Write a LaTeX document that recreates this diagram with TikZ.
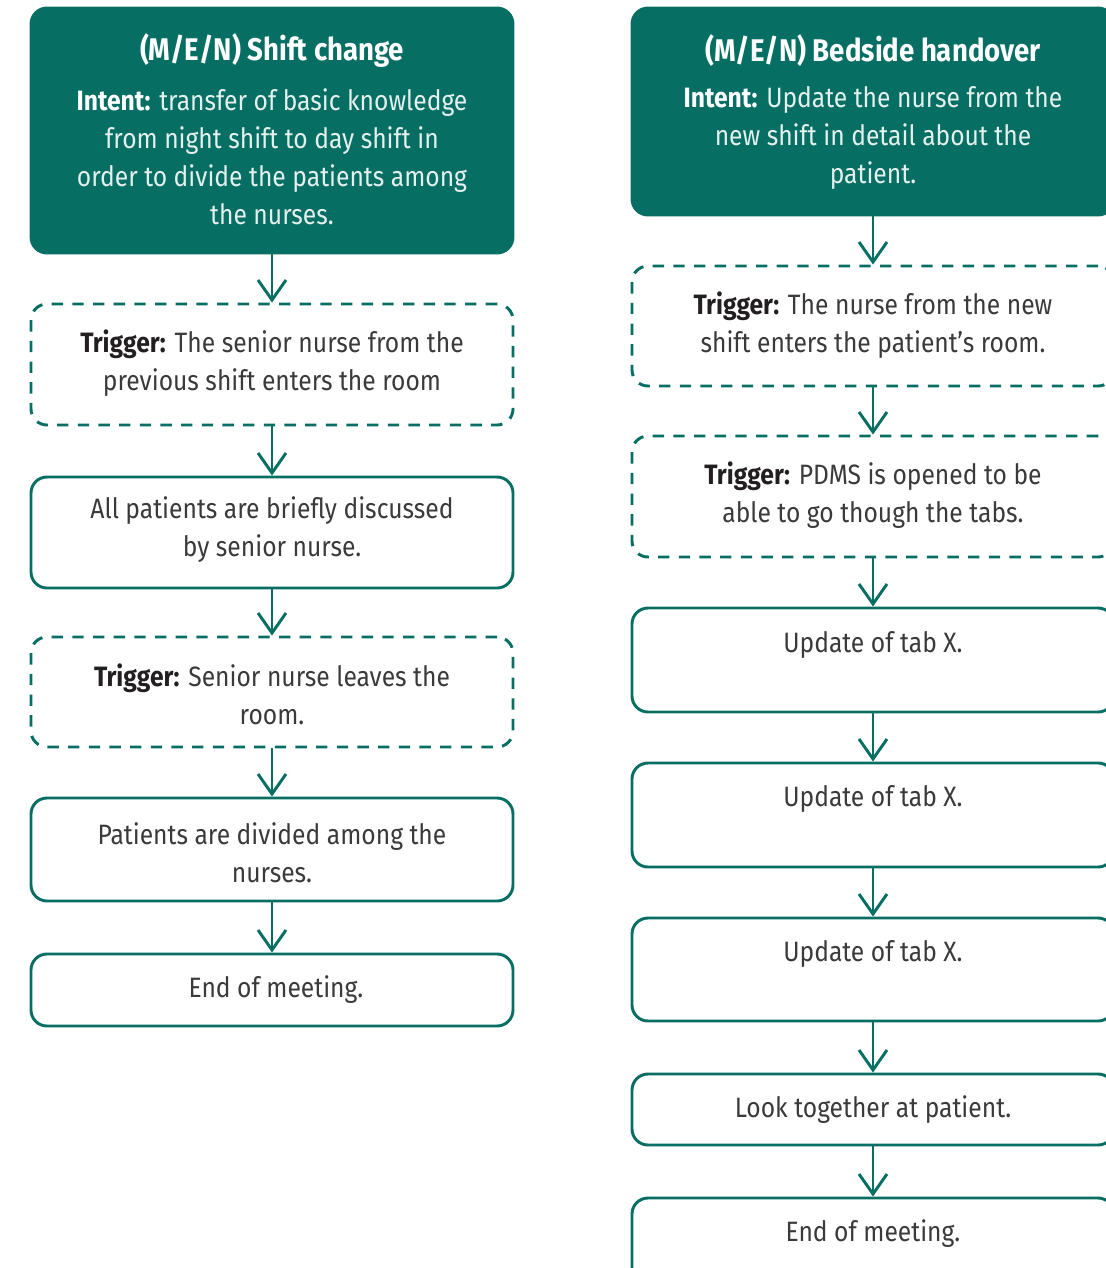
\documentclass[tikz,border=0pt]{standalone}
\usepackage{fontspec}
\setmainfont{Fira Sans}[FakeStretch=0.88]
\usetikzlibrary{arrows.meta}
\definecolor{flowteal}{HTML}{066E63}
\definecolor{inktext}{HTML}{3A3A3A}
\definecolor{inkbold}{HTML}{231F20}
\definecolor{headink}{HTML}{E3F0ED}

\tikzset{
  panel/.style={rectangle, draw=flowteal, line width=2.2pt, rounded corners=12pt,
    inner sep=0pt, minimum width=361.5pt},
  headpanel/.style={panel, fill=flowteal},
  trigpanel/.style={panel, dash pattern=on 8.5pt off 7pt},
  label/.style={align=center, text=inktext, font=\fontsize{21}{28.5}\selectfont, inner sep=0pt},
  headtitle/.style={align=center, text=white, font=\fontsize{23.5}{28.5}\selectfont\bfseries, inner sep=0pt},
  headbody/.style={align=center, text=headink, font=\fontsize{21}{28.5}\selectfont, inner sep=0pt},
  flow/.style={draw=flowteal, line width=2.2pt,
    -{Straight Barb[length=15pt, width=21pt]}}
}
\newcommand\trig{\textcolor{inkbold}{\bfseries Trigger:}}
\newcommand\intent{\textcolor{white}{\bfseries Intent:}}

\begin{document}
\begin{tikzpicture}[x=0.75pt, y=-0.75pt]
\clip (0,0) rectangle (1106,1268);

% ---------- left column: shift change ----------
\node[headpanel, minimum height=183.75pt] (l0) at (272,130.5) {};
\node[trigpanel, minimum height=90.75pt]  (l1) at (272,364.5) {};
\node[panel,     minimum height=83.25pt]  (l2) at (272,532.5) {};
\node[trigpanel, minimum height=82.5pt]   (l3) at (272,692)   {};
\node[panel,     minimum height=77.25pt]  (l4) at (272,849.5) {};
\node[panel,     minimum height=54pt]     (l5) at (272,990)   {};

\node[headtitle] (l0t) at (272,51) {(M/E/N) Shift change};
\node[headbody]  (l0b) at (272,156.5) {\intent{} transfer of basic knowledge\\from night shift to day shift in\\order to divide the patients among\\the nurses.};
\node[label] (l1t) at (272,363.5) {\trig{} The senior nurse from the\\previous shift enters the room};
\node[label] (l2t) at (272,529.5) {All patients are briefly discussed\\by senior nurse.};
\node[label] (l3t) at (272,694.5) {\trig{} Senior nurse leaves the\\room.};
\node[label] (l4t) at (272,852.5) {Patients are divided among the\\nurses.};
\node[label] (l5t) at (276,989.5) {End of meeting.};

\draw[flow] (l0.south) -- (l1.north);
\draw[flow] (l1.south) -- (l2.north);
\draw[flow] (l2.south) -- (l3.north);
\draw[flow] (l3.south) -- (l4.north);
\draw[flow] (l4.south) -- (l5.north);

% ---------- right column: bedside handover ----------
\node[headpanel, minimum height=155.25pt] (r0) at (873,111.5) {};
\node[trigpanel, minimum height=90pt]     (r1) at (873,326)   {};
\node[trigpanel, minimum height=90.75pt]  (r2) at (873,496.5) {};
\node[panel,     minimum height=78pt]     (r3) at (873,660)   {};
\node[panel,     minimum height=78pt]     (r4) at (873,815)   {};
\node[panel,     minimum height=77.25pt]  (r5) at (873,969.5) {};
\node[panel,     minimum height=53.25pt]  (r6) at (873,1109.5){};
\node[panel,     minimum height=67.5pt]   (r7) at (873,1243)  {};

\node[headtitle] (r0t) at (873,51) {(M/E/N) Bedside handover};
\node[headbody]  (r0b) at (873,137.5) {\intent{} Update the nurse from the\\new shift in detail about the\\patient.};
\node[label] (r1t) at (873,325.5) {\trig{} The nurse from the new\\shift enters the patient’s room.};
\node[label] (r2t) at (873,495.5) {\trig{} PDMS is opened to be\\able to go though the tabs.};
\node[label] (r3t) at (873,644.5) {Update of tab X.};
\node[label] (r4t) at (873,798.5) {Update of tab X.};
\node[label] (r5t) at (873,953.5) {Update of tab X.};
\node[label] (r6t) at (873,1109.5) {Look together at patient.};
\node[label] (r7t) at (873,1233.5) {End of meeting.};

\draw[flow] (r0.south) -- (r1.north);
\draw[flow] (r1.south) -- (r2.north);
\draw[flow] (r2.south) -- (r3.north);
\draw[flow] (r3.south) -- (r4.north);
\draw[flow] (r4.south) -- (r5.north);
\draw[flow] (r5.south) -- (r6.north);
\draw[flow] (r6.south) -- (r7.north);
\end{tikzpicture}
\end{document}
